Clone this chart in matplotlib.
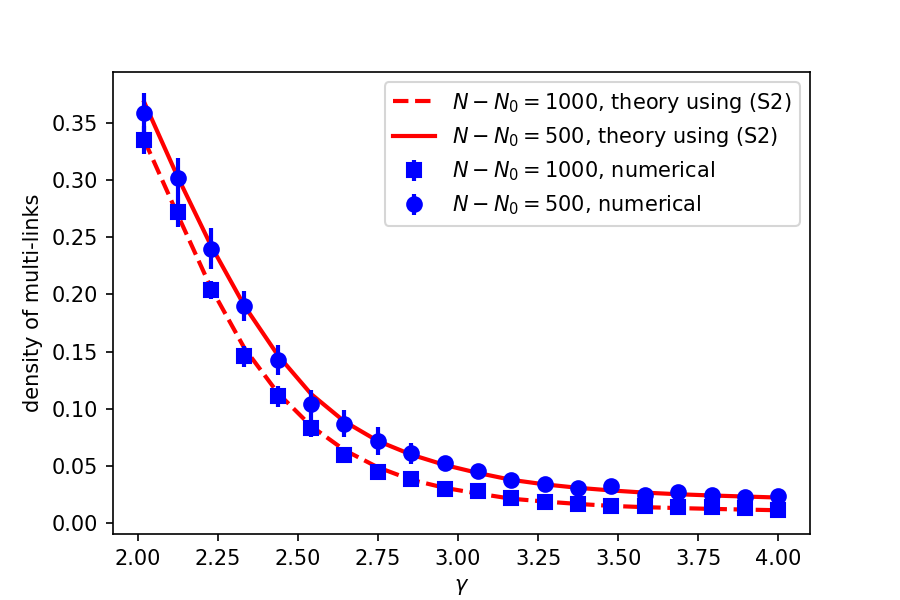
import matplotlib
matplotlib.use("Agg")
import matplotlib.pyplot as plt

# valores de gamma
gamma = [2.020, 2.124, 2.228, 2.333, 2.437, 2.541, 2.645, 2.749, 2.854, 2.958,
         3.062, 3.166, 3.271, 3.375, 3.479, 3.583, 3.687, 3.792, 3.896, 4.000]

# teoria usando (S2)
theory_1000 = [0.335, 0.270, 0.206, 0.153, 0.114, 0.085, 0.064, 0.049, 0.038, 0.031,
               0.026, 0.0215, 0.0190, 0.0169, 0.0152, 0.0141, 0.0133, 0.0126, 0.0120, 0.0114]
theory_500 = [0.368, 0.303, 0.243, 0.190, 0.147, 0.113, 0.089, 0.072, 0.060, 0.051,
              0.044, 0.038, 0.034, 0.031, 0.0287, 0.0268, 0.0254, 0.0243, 0.0234, 0.0225]

# resultados numericos
num_1000 = [0.335, 0.272, 0.204, 0.146, 0.111, 0.083, 0.060, 0.045, 0.039, 0.030,
            0.028, 0.022, 0.019, 0.017, 0.015, 0.015, 0.014, 0.014, 0.013, 0.012]
err_1000 = [0.012, 0.013, 0.008, 0.009, 0.009, 0.008, 0.004, 0.004, 0.003, 0.003,
            0.003, 0.003, 0.003, 0.002, 0.002, 0.003, 0.002, 0.002, 0.002, 0.003]
num_500 = [0.3585, 0.302, 0.240, 0.190, 0.143, 0.104, 0.087, 0.072, 0.061, 0.053,
           0.046, 0.038, 0.034, 0.031, 0.033, 0.025, 0.027, 0.025, 0.023, 0.024]
err_500 = [0.0175, 0.017, 0.018, 0.013, 0.013, 0.0125, 0.012, 0.012, 0.009, 0.005,
           0.006, 0.006, 0.004, 0.006, 0.003, 0.004, 0.005, 0.004, 0.003, 0.003]

plt.figure(figsize=(6, 4), dpi=150)
plt.plot(gamma, theory_1000, 'r--', lw=2, label='$N-N_0=1000$, theory using (S2)')
plt.plot(gamma, theory_500, 'r-', lw=2, label='$N-N_0=500$, theory using (S2)')
plt.errorbar(gamma, num_1000, yerr=err_1000, fmt='bs', ms=7, elinewidth=2,
             label='$N-N_0=1000$, numerical')
plt.errorbar(gamma, num_500, yerr=err_500, fmt='bo', ms=7, elinewidth=2,
             label='$N-N_0=500$, numerical')
plt.xlabel(r'$\gamma$')
plt.ylabel('density of multi-links')
plt.legend(loc='upper right')
plt.savefig('out.png', dpi=150)
